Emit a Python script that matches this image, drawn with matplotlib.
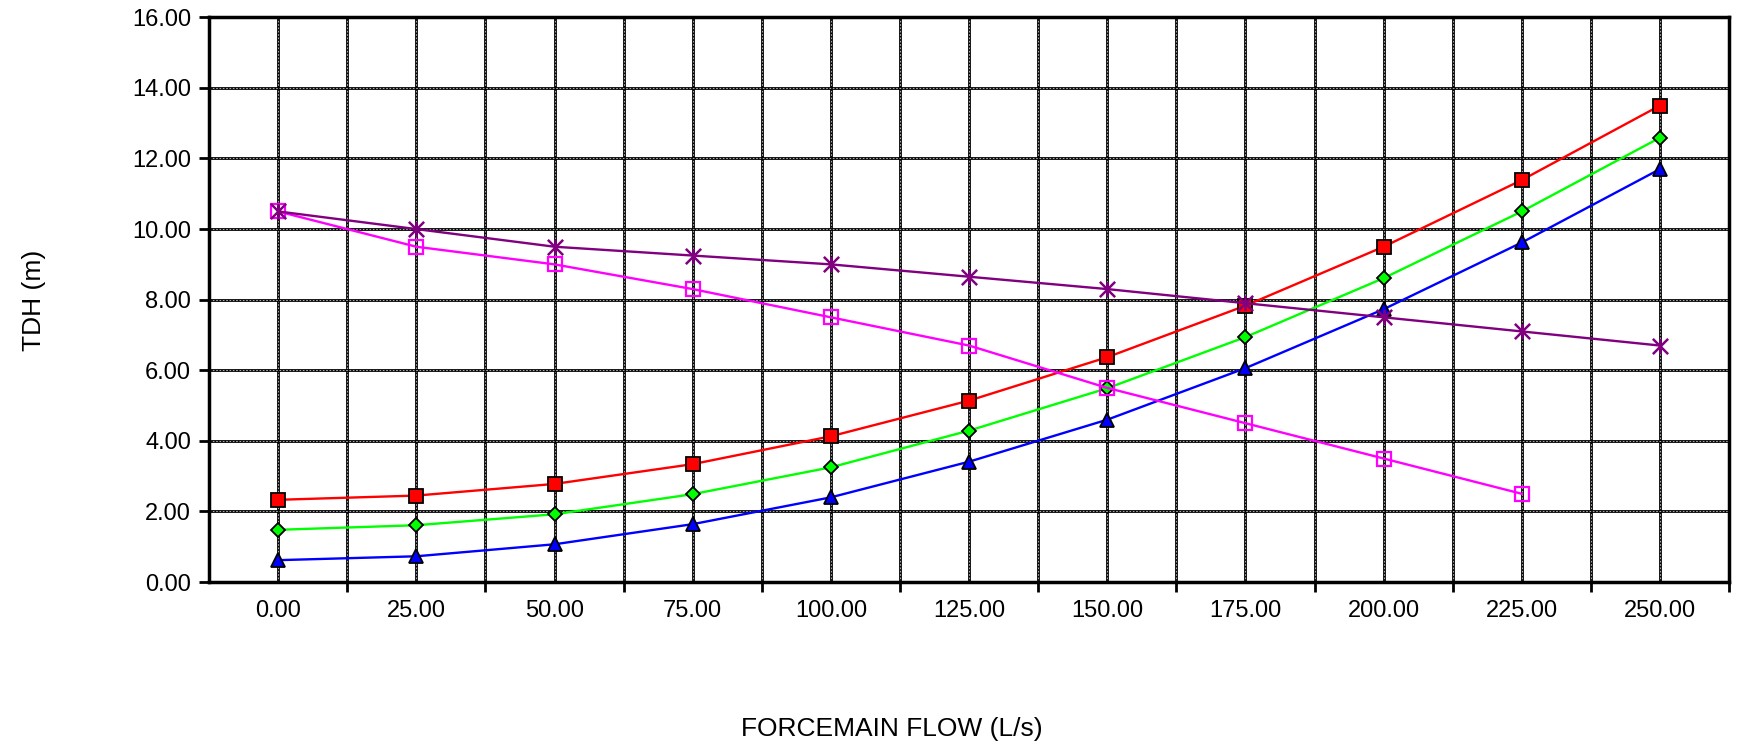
import matplotlib.pyplot as plt
from matplotlib.path import Path
import numpy as np

plt.rcParams['font.family'] = ['Liberation Sans', 'DejaVu Sans']

# Forcemain flow (L/s) and TDH (m) for each curve
flow = [0, 25, 50, 75, 100, 125, 150, 175, 200, 225, 250]
tdh_red = [2.33, 2.45, 2.78, 3.34, 4.13, 5.14, 6.37, 7.83, 9.50, 11.39, 13.50]
tdh_green = [1.48, 1.61, 1.92, 2.49, 3.25, 4.29, 5.49, 6.94, 8.61, 10.50, 12.59]
tdh_blue = [0.62, 0.73, 1.07, 1.64, 2.40, 3.41, 4.60, 6.06, 7.73, 9.62, 11.70]
flow_pump = [0, 25, 50, 75, 100, 125, 150, 175, 200, 225]
tdh_pump = [10.5, 9.5, 9.0, 8.3, 7.5, 6.7, 5.5, 4.5, 3.5, 2.5]
tdh_purple = [10.5, 10.0, 9.5, 9.25, 9.0, 8.65, 8.3, 7.9, 7.5, 7.1, 6.7]

# excel style star: an X with a vertical bar
star = Path([(-1, -1), (1, 1), (-1, 1), (1, -1), (0, -1), (0, 1)],
            [Path.MOVETO, Path.LINETO, Path.MOVETO, Path.LINETO, Path.MOVETO, Path.LINETO])

fig = plt.figure(figsize=(17.42, 7.52), dpi=100)
ax = fig.add_axes([0.12, 0.226, 0.8726, 0.751])

# Excel-like grid: black lines with a light dash inside
grid_x = np.arange(-12.5, 262.6, 12.5)
grid_y = np.arange(2, 16.1, 2)
for gx in grid_x:
    ax.axvline(gx, color="black", linewidth=2, zorder=1)
    ax.axvline(gx, color="#c8c8c8", linewidth=0.6, linestyle=(0, (2, 2)), zorder=1)
for gy in grid_y:
    ax.axhline(gy, color="black", linewidth=2, zorder=1)
    ax.axhline(gy, color="#c8c8c8", linewidth=0.6, linestyle=(0, (2, 2)), zorder=1)

ax.plot(flow, tdh_red, color="red", linewidth=1.7, marker="s", markersize=10,
        markerfacecolor="red", markeredgecolor="black", markeredgewidth=1.3, zorder=3)
ax.plot(flow, tdh_green, color="#00ff00", linewidth=1.7, marker="D", markersize=7.5,
        markerfacecolor="#00ff00", markeredgecolor="black", markeredgewidth=1.3, zorder=3)
ax.plot(flow, tdh_blue, color="blue", linewidth=1.7, marker="^", markersize=10,
        markerfacecolor="blue", markeredgecolor="black", markeredgewidth=1.3, zorder=3)
ax.plot(flow_pump, tdh_pump, color="magenta", linewidth=1.7, marker="s", markersize=9.5,
        markerfacecolor="none", markeredgecolor="magenta", markeredgewidth=1.6, zorder=3)
ax.plot(flow, tdh_purple, color="purple", linewidth=1.7, marker=star, markersize=11,
        markeredgecolor="purple", markeredgewidth=1.8, zorder=3)

ax.set_xlim(-12.5, 262.5)
ax.set_ylim(0, 16)
ax.set_xticks(flow)
ax.set_xticklabels(["%.2f" % f for f in flow], fontsize=17)
ax.tick_params(axis="x", length=0, pad=13)
ax.set_xticks(np.arange(12.5, 262.6, 25), minor=True)
ax.tick_params(axis="x", which="minor", length=7, width=2, direction="out")
ax.set_yticks(np.arange(0, 16.1, 2))
ax.set_yticklabels(["%.2f" % v for v in np.arange(0, 16.1, 2)], fontsize=17)
ax.tick_params(axis="y", length=7, width=2, direction="out", pad=6)

for s in ax.spines.values():
    s.set_linewidth(2.5)
    s.set_zorder(4)

fig.text(0.0195, 0.6, "TDH (m)", rotation=90, fontsize=19, va="center", ha="center")
fig.text(0.512, 0.03, "FORCEMAIN FLOW (L/s)", fontsize=19, va="center", ha="center")

plt.savefig("out.png", dpi=100)
